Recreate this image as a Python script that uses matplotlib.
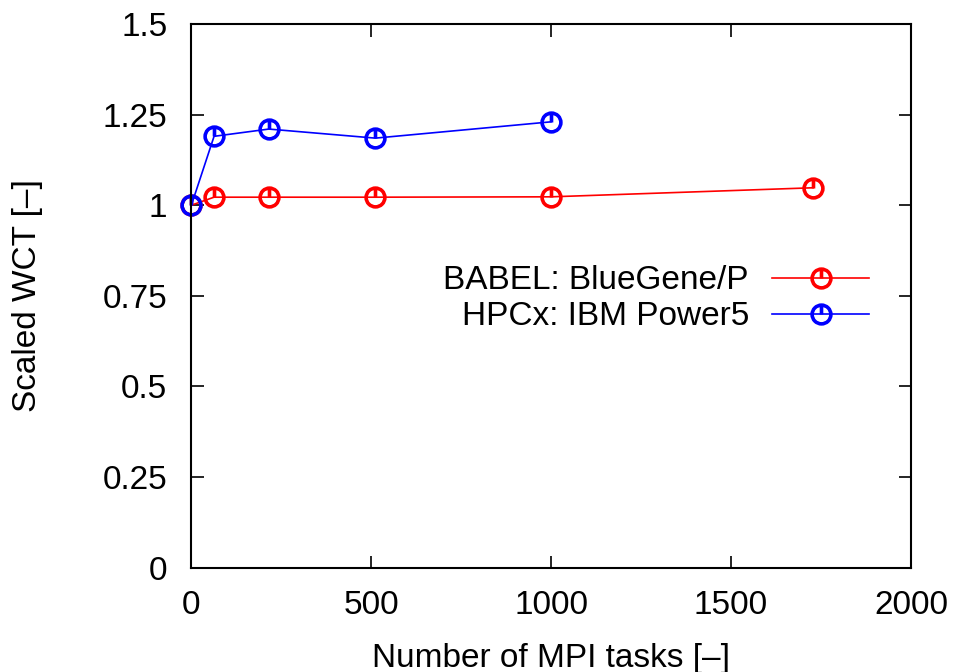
import numpy as np
import matplotlib
matplotlib.use("Agg")
import matplotlib.pyplot as plt
from matplotlib.path import Path

# Scaled wall clock time versus number of MPI tasks (weak scaling)
babel_tasks = [1, 64, 216, 512, 1000, 1728]
babel_wct = [1.0, 1.022, 1.022, 1.022, 1.023, 1.048]

hpcx_tasks = [1, 64, 216, 512, 1000]
hpcx_wct = [1.0, 1.19, 1.21, 1.185, 1.23]

xticks = [0, 500, 1000, 1500, 2000]
yticks = [0, 0.25, 0.5, 0.75, 1, 1.25, 1.5]
ytick_labels = ["0", "0.25", "0.5", "0.75", "1", "1.25", "1.5"]

plt.rcParams['font.family'] = ['Liberation Sans', 'DejaVu Sans']
plt.rcParams['font.size'] = 24

# circle with a tick from the centre up to the rim
circ = Path.unit_circle()
stick = Path([[0, 0], [0, 1]], [Path.MOVETO, Path.LINETO])
marker = Path.make_compound_path(circ, stick)

fig = plt.figure(figsize=(9.58, 6.72), dpi=100)
ax = fig.add_axes([0.1994, 0.1555, 0.7516, 0.8088])

style = dict(lw=1.2, marker=marker, markersize=13.5, markerfacecolor='none',
             markeredgewidth=2.6, clip_on=False)
ax.plot(babel_tasks, babel_wct, color='#ff0000', label='BABEL: BlueGene/P', **style)
ax.plot(hpcx_tasks, hpcx_wct, color='#0000ff', label='HPCx: IBM Power5', **style)

ax.set_xlim(0, 2000)
ax.set_ylim(0, 1.5)
ax.set_xticks(xticks)
ax.set_yticks(yticks)
ax.set_yticklabels(ytick_labels)

for s in ax.spines.values():
    s.set_linewidth(1.5)
ax.tick_params(direction='in', length=9, width=1.2, top=True, right=True)
ax.tick_params(axis='y', pad=17)
ax.tick_params(axis='x', pad=16)

ax.set_xlabel('Number of MPI tasks [–]', labelpad=16)
ax.set_ylabel('Scaled WCT [–]', labelpad=43)

ax.legend(loc='upper right', bbox_to_anchor=(0.907, 0.605),
          bbox_transform=fig.transFigure, frameon=False,
          markerfirst=False, numpoints=1, handlelength=2.9,
          handletextpad=0.7, labelspacing=0.15, borderpad=0,
          borderaxespad=0)

fig.savefig('out.png', dpi=100)
